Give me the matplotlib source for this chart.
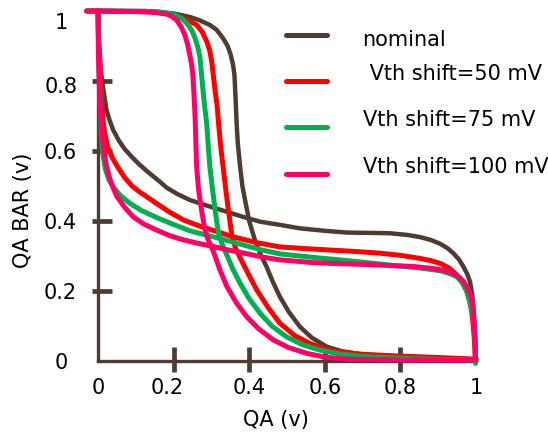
import matplotlib
matplotlib.use("Agg")
import matplotlib.pyplot as plt
from matplotlib.lines import Line2D
from matplotlib.transforms import ScaledTranslation

plt.rcParams['font.family'] = ['DejaVu Sans']

# series labels and colours (brown, red, green, pink)
labels = ["nominal", " Vth shift=50 mV", "Vth shift=75 mV", "Vth shift=100 mV"]
colors = ["#4f3b30", "#ff0000", "#00b050", "#ff0066"]

# first inverter curve (QA BAR vs QA)
nom_a_x = [-0.03, 0.0, 0.15, 0.2, 0.243, 0.27, 0.296, 0.314, 0.331, 0.343, 0.351, 0.357, 0.361, 0.364, 0.367,
           0.37, 0.376, 0.382, 0.389, 0.4, 0.415, 0.43, 0.446, 0.463, 0.481, 0.505, 0.534, 0.565, 0.605, 0.645,
           0.693, 0.75, 0.8, 0.9, 1.0]
nom_a_y = [1.0, 1.0, 0.998, 0.993, 0.983, 0.973, 0.96, 0.946, 0.922, 0.9, 0.875, 0.848, 0.817, 0.75, 0.674,
           0.62, 0.555, 0.5, 0.46, 0.4, 0.346, 0.305, 0.269, 0.225, 0.184, 0.14, 0.098, 0.067, 0.041, 0.028,
           0.02, 0.015, 0.012, 0.008, 0.005]
v50_a_x = [-0.03, 0.0, 0.13, 0.18, 0.2, 0.226, 0.245, 0.261, 0.276, 0.288, 0.296, 0.301, 0.305, 0.31, 0.315,
           0.319, 0.323, 0.327, 0.331, 0.338, 0.345, 0.354, 0.364, 0.376, 0.397, 0.42, 0.45, 0.481, 0.52, 0.561,
           0.6, 0.64, 0.7, 0.8, 0.9, 1.0]
v50_a_y = [1.0, 1.0, 0.999, 0.994, 0.989, 0.979, 0.97, 0.96, 0.94, 0.912, 0.885, 0.855, 0.817, 0.77, 0.731,
           0.68, 0.631, 0.59, 0.555, 0.49, 0.431, 0.36, 0.322, 0.295, 0.25, 0.203, 0.153, 0.108, 0.073, 0.05,
           0.035, 0.026, 0.019, 0.014, 0.01, 0.005]
v75_a_x = [-0.03, 0.0, 0.12, 0.165, 0.199, 0.22, 0.235, 0.248, 0.257, 0.265, 0.27, 0.274, 0.279, 0.283, 0.288,
           0.292, 0.296, 0.303, 0.31, 0.318, 0.328, 0.34, 0.357, 0.376, 0.4, 0.429, 0.46, 0.499, 0.54, 0.587,
           0.64, 0.711, 0.85, 1.0]
v75_a_y = [1.0, 1.0, 0.999, 0.997, 0.991, 0.98, 0.965, 0.945, 0.922, 0.893, 0.865, 0.817, 0.76, 0.72, 0.674,
           0.61, 0.555, 0.49, 0.431, 0.37, 0.335, 0.305, 0.262, 0.222, 0.178, 0.136, 0.1, 0.069, 0.047, 0.031,
           0.02, 0.012, 0.006, 0.003]
v100_a_x = [-0.03, 0.0, 0.111, 0.15, 0.182, 0.196, 0.208, 0.22, 0.23, 0.237, 0.243, 0.248, 0.251, 0.254, 0.257,
            0.259, 0.261, 0.266, 0.274, 0.282, 0.29, 0.305, 0.322, 0.34, 0.365, 0.393, 0.425, 0.464, 0.505, 0.552,
            0.6, 0.667, 0.8, 1.0]
v100_a_y = [1.0, 1.0, 0.998, 0.996, 0.991, 0.984, 0.974, 0.955, 0.931, 0.905, 0.874, 0.845, 0.817, 0.76, 0.694,
            0.62, 0.555, 0.49, 0.431, 0.38, 0.35, 0.314, 0.262, 0.215, 0.168, 0.127, 0.092, 0.06, 0.038, 0.022,
            0.011, 0.005, 0.003, 0.003]

# second inverter curve
nom_b_x = [0.0, 0.001, 0.003, 0.007, 0.013, 0.022, 0.03, 0.04, 0.055, 0.071, 0.088, 0.106, 0.132, 0.155, 0.182,
           0.21, 0.243, 0.285, 0.33, 0.38, 0.429, 0.481, 0.534, 0.6, 0.658, 0.72, 0.772, 0.82, 0.852, 0.88,
           0.905, 0.925, 0.94, 0.955, 0.967, 0.977, 0.984, 0.99, 0.993, 0.996, 0.998, 1.0]
nom_b_y = [1.0, 0.95, 0.89, 0.83, 0.784, 0.72, 0.69, 0.66, 0.63, 0.605, 0.585, 0.565, 0.54, 0.52, 0.495,
           0.477, 0.46, 0.445, 0.43, 0.413, 0.398, 0.389, 0.379, 0.372, 0.367, 0.366, 0.365, 0.36, 0.354, 0.346,
           0.335, 0.322, 0.308, 0.29, 0.269, 0.248, 0.227, 0.19, 0.15, 0.1, 0.05, 0.0]
v50_b_x = [0.0, 0.001, 0.003, 0.006, 0.009, 0.011, 0.013, 0.018, 0.026, 0.038, 0.053, 0.07, 0.09, 0.11, 0.128,
           0.155, 0.19, 0.226, 0.27, 0.314, 0.357, 0.42, 0.481, 0.55, 0.614, 0.68, 0.746, 0.8, 0.852, 0.88,
           0.905, 0.93, 0.949, 0.963, 0.975, 0.982, 0.988, 0.992, 0.995, 0.997, 0.998]
v50_b_y = [1.0, 0.95, 0.9, 0.84, 0.784, 0.73, 0.689, 0.65, 0.612, 0.58, 0.553, 0.525, 0.5, 0.483, 0.47,
           0.45, 0.425, 0.403, 0.385, 0.37, 0.355, 0.338, 0.326, 0.321, 0.317, 0.313, 0.308, 0.302, 0.293, 0.287,
           0.279, 0.265, 0.246, 0.226, 0.203, 0.176, 0.146, 0.11, 0.07, 0.035, 0.0]
v75_b_x = [0.0, 0.001, 0.003, 0.005, 0.007, 0.009, 0.012, 0.019, 0.028, 0.04, 0.06, 0.085, 0.115, 0.155, 0.2,
           0.243, 0.285, 0.323, 0.38, 0.43, 0.481, 0.57, 0.658, 0.72, 0.79, 0.85, 0.905, 0.93, 0.949, 0.963,
           0.975, 0.985, 0.993, 0.996, 0.998, 0.999]
v75_b_y = [1.0, 0.93, 0.85, 0.77, 0.7, 0.65, 0.6, 0.55, 0.52, 0.497, 0.472, 0.45, 0.43, 0.41, 0.39,
           0.372, 0.36, 0.35, 0.333, 0.318, 0.306, 0.296, 0.287, 0.28, 0.272, 0.266, 0.258, 0.25, 0.241, 0.225,
           0.2, 0.165, 0.127, 0.09, 0.05, -0.007]
v100_b_x = [0.0, 0.001, 0.003, 0.005, 0.008, 0.012, 0.016, 0.022, 0.03, 0.04, 0.05, 0.07, 0.093, 0.12, 0.155,
            0.19, 0.226, 0.265, 0.305, 0.35, 0.4, 0.44, 0.481, 0.57, 0.64, 0.702, 0.77, 0.834, 0.88, 0.905,
            0.925, 0.94, 0.955, 0.967, 0.977, 0.984, 0.99, 0.993, 0.996, 0.998, 0.999]
v100_b_y = [1.0, 0.88, 0.8, 0.74, 0.69, 0.64, 0.6, 0.56, 0.525, 0.495, 0.47, 0.44, 0.412, 0.392, 0.374,
            0.358, 0.346, 0.336, 0.327, 0.316, 0.305, 0.296, 0.289, 0.281, 0.278, 0.276, 0.273, 0.27, 0.265, 0.261,
            0.256, 0.25, 0.24, 0.227, 0.21, 0.194, 0.17, 0.146, 0.1, 0.04, 0.003]

curves_a = [(nom_a_x, nom_a_y), (v50_a_x, v50_a_y), (v75_a_x, v75_a_y), (v100_a_x, v100_a_y)]
curves_b = [(nom_b_x, nom_b_y), (v50_b_x, v50_b_y), (v75_b_x, v75_b_y), (v100_b_x, v100_b_y)]

tick_vals = [0, 0.2, 0.4, 0.6, 0.8, 1]
tick_text = ["0", "0.2", "0.4", "0.6", "0.8", "1"]
mark_vals = [0.2, 0.4, 0.6, 0.8]

brown = colors[0]

fig = plt.figure(figsize=(5.48, 4.36), dpi=100)
ax = fig.add_axes([98 / 548, 75 / 436, 378 / 548, 350 / 436])

for (xa, ya), (xb, yb), c in zip(curves_a, curves_b, colors):
    lw = 3.6 if c != brown else 3.2
    ax.plot(xa, ya, color=c, lw=lw, solid_capstyle="round", solid_joinstyle="round", clip_on=False, zorder=3)
    ax.plot(xb, yb, color=c, lw=lw, solid_capstyle="round", solid_joinstyle="round", clip_on=False, zorder=3)

ax.set_xlim(0, 1)
ax.set_ylim(0, 1)
for s in ["top", "right"]:
    ax.spines[s].set_visible(False)
for s in ["left", "bottom"]:
    ax.spines[s].set_color(brown)
    ax.spines[s].set_linewidth(2.4)

# labels on major ticks, the thick marks are minor ticks at the inner values
ax.xaxis.remove_overlapping_locs = False
ax.yaxis.remove_overlapping_locs = False
ax.set_xticks(tick_vals)
ax.set_xticklabels(tick_text)
ax.set_yticks(tick_vals)
ax.set_yticklabels(tick_text)
ax.set_xticks(mark_vals, minor=True)
ax.set_yticks(mark_vals, minor=True)
ax.tick_params(which="major", length=0, labelsize=15, colors="black")
ax.tick_params(axis="x", which="major", pad=12)
ax.tick_params(axis="y", which="major", pad=15)
ax.tick_params(axis="x", which="minor", direction="inout", length=18, width=3.4, color=brown)
ax.tick_params(axis="y", which="minor", direction="inout", length=15, width=3.4, color=brown)

def nudge(artist, dx, dy):
    artist.set_transform(artist.get_transform() + ScaledTranslation(dx / 72, dy / 72, fig.dpi_scale_trans))

# marks sit mostly inside the axes in the reference
for t in ax.yaxis.get_minor_ticks():
    nudge(t.tick1line, 3, 0)
for t in ax.xaxis.get_minor_ticks():
    nudge(t.tick1line, 0, 1.2)

# the reference has a few labels nudged by hand
ylbls = ax.get_yticklabels()
nudge(ylbls[0], -7, 0)
nudge(ylbls[4], 0, -3)
nudge(ylbls[5], -6.5, -7)
nudge(ax.get_xticklabels()[1], -4.5, 0)

ax.text(0.47, -0.169, "QA (v)", transform=ax.transAxes, ha="center", va="center", fontsize=15)
ax.text(-0.198, 0.431, "QA BAR (v)", transform=ax.transAxes, ha="center", va="center",
        rotation=90, fontsize=15)

# hand placed legend
leg_line_y = [0.931, 0.8, 0.669, 0.534]
leg_text_y = [0.9, 0.803, 0.671, 0.538]
leg_text_x = [0.698, 0.701, 0.701, 0.701]
for lab, c, ly, ty, tx in zip(labels, colors, leg_line_y, leg_text_y, leg_text_x):
    ax.add_line(Line2D([0.497, 0.606], [ly, ly], color=c, lw=3.6, solid_capstyle="round", zorder=4))
    ax.text(tx, ty, lab, ha="left", va="baseline", fontsize=15)

fig.savefig("out.png", dpi=100)
